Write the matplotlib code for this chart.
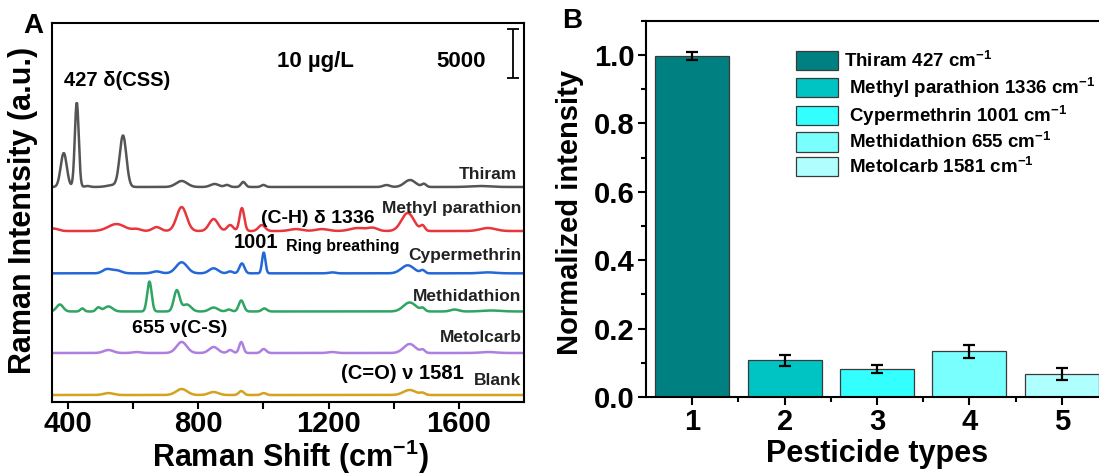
import numpy as np
import matplotlib
matplotlib.use("Agg")
import matplotlib.pyplot as plt
from matplotlib.ticker import FixedLocator, MultipleLocator, FormatStrFormatter
from matplotlib.patches import Patch

plt.rcParams['font.family'] = ['Liberation Sans', 'DejaVu Sans']
plt.rcParams['font.weight'] = 'bold'
plt.rcParams['mathtext.fontset'] = 'custom'
plt.rcParams['mathtext.rm'] = 'Liberation Sans:bold'
plt.rcParams['mathtext.it'] = 'Liberation Sans:bold'
plt.rcParams['mathtext.bf'] = 'Liberation Sans:bold'

# ---- panel A: Raman spectra, peaks (centre cm-1, height a.u., fwhm cm-1)
shift = np.arange(350, 1801, 2.0)

thiram_peaks = [(387, 3510, 22), (427, 8780, 14), (460, 100, 18), (540, 200, 45),
                (569, 5270, 24), (749, 620, 40), (850, 310, 30), (888, 210, 18),
                (938, 520, 16), (1000, 210, 16), (1378, 200, 24), (1450, 720, 40),
                (1493, 310, 16), (1665, 100, 70)]
methyl_parathion_peaks = [(355, 260, 35), (549, 720, 60), (611, 200, 30), (672, 410, 30),
                          (749, 2480, 36), (847, 1240, 32), (898, 620, 22), (934, 2380, 17),
                          (995, 620, 24), (1100, 200, 45), (1180, 200, 45), (1290, 310, 55),
                          (1336, 310, 35), (1443, 1860, 45), (1489, 520, 16), (1689, 310, 55)]
cypermethrin_peaks = [(519, 410, 30), (549, 310, 35), (672, 200, 30), (749, 1140, 40),
                      (847, 520, 32), (898, 200, 18), (934, 1030, 18), (1001, 2170, 12),
                      (1211, 100, 24), (1443, 830, 45), (1489, 310, 16), (1689, 100, 55)]
methidathion_peaks = [(375, 720, 24), (444, 310, 14), (493, 410, 16), (524, 520, 30),
                      (650, 3100, 16), (734, 2170, 21), (765, 720, 30), (847, 410, 30),
                      (894, 200, 18), (932, 1140, 18), (1003, 310, 18), (1449, 930, 45),
                      (1489, 310, 16), (1587, 200, 30), (1700, 100, 65)]
metolcarb_peaks = [(524, 310, 35), (611, 100, 30), (749, 1140, 37), (847, 620, 32),
                   (898, 310, 18), (932, 1140, 15), (1001, 410, 18), (1211, 100, 30),
                   (1449, 930, 43), (1489, 310, 16), (1690, 100, 55)]
blank_peaks = [(524, 200, 35), (749, 620, 40), (847, 310, 35), (932, 410, 18),
               (1001, 200, 18), (1449, 520, 45), (1489, 200, 18)]

spec_names = ['Thiram', 'Methyl parathion', 'Cypermethrin', 'Methidathion', 'Metolcarb', 'Blank']
spec_peaks = [thiram_peaks, methyl_parathion_peaks, cypermethrin_peaks,
              methidathion_peaks, metolcarb_peaks, blank_peaks]
spec_offsets = [22160, 17610, 13240, 9300, 5010, 670]
spec_colors = ['#555555', '#e8363c', '#2468d8', '#2fa463', '#ad7fe0', '#d4a21c']
label_y = [23400, 19885, 15030, 10795, 6560, 2220]

# ---- panel B: normalized intensity
pest_types = [1, 2, 3, 4, 5]
norm_int = [0.997, 0.107, 0.082, 0.134, 0.068]
norm_err = [0.011, 0.015, 0.012, 0.019, 0.017]
bar_colors = ['#008080', '#00c4c4', '#33ffff', '#7affff', '#b0ffff']
bar_labels = ['Thiram 427 cm$^{-1}$', ' Methyl parathion 1336 cm$^{-1}$',
              ' Cypermethrin 1001 cm$^{-1}$', ' Methidathion 655 cm$^{-1}$',
              ' Metolcarb 1581 cm$^{-1}$']


def spectrum(peaks, offset):
    y = np.full_like(shift, float(offset))
    for c, h, w in peaks:
        y += h * np.exp(-4 * np.log(2) * ((shift - c) / w) ** 2)
    return y


W, H = 1099, 474
fig = plt.figure(figsize=(W / 100, H / 100), dpi=100)

axA = fig.add_axes([51.7 / W, 1 - 401.5 / H, 472.3 / W, 379 / H])
for peaks, off, col in zip(spec_peaks, spec_offsets, spec_colors):
    axA.plot(shift, spectrum(peaks, off), color=col, lw=1.8)
axA.set_xlim(350, 1800)
axA.set_ylim(0, 39150)
axA.xaxis.set_major_locator(FixedLocator([400, 800, 1200, 1600]))
axA.xaxis.set_minor_locator(FixedLocator([600, 1000, 1400]))
axA.set_yticks([])
axA.tick_params(axis='x', which='both', direction='out', length=5, width=1.5,
                labelsize=21, pad=1)
for s in axA.spines.values():
    s.set_linewidth(1.5)

for name, ly in zip(spec_names, label_y):
    xr = 1777 if name == 'Thiram' else 1792
    axA.text(xr, ly, name, ha='right', va='center', fontsize=12.5, color='#222222')

axA.text(387, 33110, '427 δ(CSS)', fontsize=14.5, va='center')
axA.text(1042, 35070, '10 µg/L', fontsize=16, va='center')
axA.text(1531, 35070, '5000', fontsize=16, va='center')
axA.text(993, 18955, '(C-H) δ 1336', fontsize=14, va='center')
axA.text(910, 16400, '1001', fontsize=14.5, va='center')
axA.text(1069, 16000, 'Ring breathing', fontsize=11.5, va='center')
axA.text(596, 7590, '655 ν(C-S)', fontsize=14, va='center')
axA.text(1238, 2940, '(C=O) ν 1581', fontsize=14.5, va='center')
axA.errorbar([1765], [35950], yerr=[2500], color='black', lw=1.3, capsize=4, capthick=1.3)

fig.text(23 / W, 1 - 210 / H, 'Raman Intentsity (a.u.)', rotation=90,
         ha='center', va='center', fontsize=22)
fig.text(290 / W, 1 - 457 / H, 'Raman Shift (cm$^{-1}$)', ha='center', va='center', fontsize=22)
fig.text(33 / W, 1 - 26 / H, 'A', ha='center', va='center', fontsize=20)

# ---- panel B
axB = fig.add_axes([646 / W, 1 - 397 / H, 462 / W, 376.2 / H])
axB.bar(pest_types, norm_int, width=0.8, color=bar_colors, edgecolor='#3a3a3a',
        linewidth=0.9)
axB.errorbar(pest_types, norm_int, yerr=norm_err, fmt='none', ecolor='black',
             elinewidth=1.6, capsize=4, capthick=1.6)
axB.set_xlim(0.5, 5.5)
axB.set_ylim(0, 1.1)
axB.xaxis.set_major_locator(FixedLocator(pest_types))
axB.xaxis.set_minor_locator(FixedLocator([1.5, 2.5, 3.5, 4.5]))
axB.yaxis.set_major_locator(MultipleLocator(0.2))
axB.yaxis.set_minor_locator(MultipleLocator(0.1))
axB.yaxis.set_major_formatter(FormatStrFormatter('%.1f'))
axB.tick_params(which='major', direction='out', length=6, width=1.5, labelsize=21, pad=2)
axB.tick_params(which='minor', direction='out', length=3.5, width=1.5)
axB.spines['right'].set_visible(False)
for s in ['left', 'bottom', 'top']:
    axB.spines[s].set_linewidth(1.5)

handles = [Patch(facecolor=c, edgecolor='#3a3a3a', linewidth=0.9) for c in bar_colors]
fig.legend(handles, bar_labels, loc='upper left', bbox_to_anchor=(796 / W, 1 - 51 / H),
           frameon=False, fontsize=13.5, handlelength=2.25, handleheight=1.2,
           labelspacing=0.23, handletextpad=0.3, borderpad=0, borderaxespad=0)

fig.text(570 / W, 1 - 212 / H, 'Normalized intensity', rotation=90,
         ha='center', va='center', fontsize=21)
fig.text(877 / W, 1 - 454 / H, 'Pesticide types', ha='center', va='center', fontsize=22)
fig.text(572 / W, 1 - 21 / H, 'B', ha='center', va='center', fontsize=20)

fig.savefig('out.png', dpi=100)
